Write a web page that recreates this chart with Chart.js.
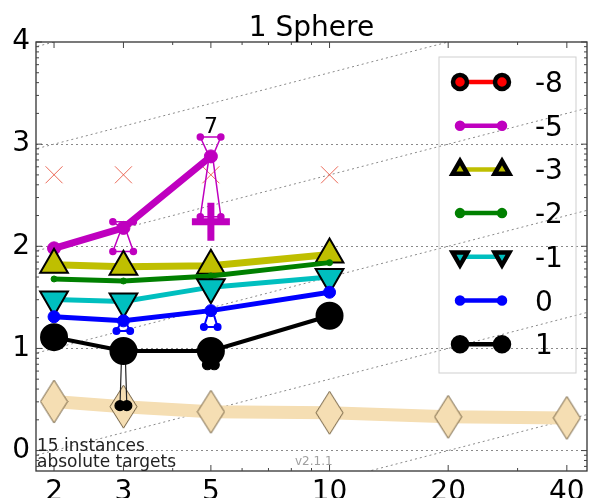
<!DOCTYPE html>
<html>
<head>
<meta charset="utf-8">
<script src="https://cdn.jsdelivr.net/npm/chart.js@4.4.1/dist/chart.umd.min.js"></script>
<style>
    html, body { margin: 0; padding: 0; overflow: hidden; background: #fff; }
    #wrap { width: 592px; height: 510px; }
</style>
</head>
<body>
<div id="wrap"><canvas id="ertChart" width="592" height="510"></canvas></div>
<script>
// dimensions and axis ticks
const dims = [2, 3, 5, 10, 20, 40];
const xTickValues = [2, 3, 5, 10, 20, 40];
const xMinorTicks = [4, 6, 7, 8, 9, 30];
const yTickValues = [0, 1, 2, 3, 4];

// log10(ERT / dim) for each target, by dimension
const ertM8 = [];
const ertM5 = [1.98, 2.18, 2.88];
const ertM3 = [1.82, 1.80, 1.81, 1.92];
const ertM2 = [1.68, 1.66, 1.71, 1.84];
const ertM1 = [1.48, 1.46, 1.60, 1.70];
const ert0 = [1.31, 1.27, 1.37, 1.55];
const ert1 = [1.11, 0.975, 0.975, 1.32];

// best 2009 reference (diamonds) and red crosses
const best2009 = [0.48, 0.43, 0.38, 0.37, 0.33, 0.32];
const refCross = [2.70, 2.70, 2.70, 2.70];

// percentile bars at dims 3 and 5
const pctDims = [3, 5];
const ertM5Hi = [2.24, 3.07];
const ertM5Lo = [1.95, 2.29];
const ert0Lo = [1.17, 1.21];
const ert1Lo = [0.44, 0.84];

// median of unsuccessful runs for target -5, and number of successes
const unsuccDims = [5];
const unsuccM5 = [2.24];
const succCountM5 = ['7'];

// offsets of the dotted quadratic-scaling lines
const diagOffsets = [-2, -1, 0, 1, 2, 3];

const FONT = 'DejaVu Sans';

function pts(ys) {
    return ys.map((y, i) => ({ x: dims[i], y: y }));
}

// diamond marker for the reference line
function makeDiamond(w, h) {
    const c = document.createElement('canvas');
    c.width = w + 2;
    c.height = h + 2;
    const g = c.getContext('2d');
    g.beginPath();
    g.moveTo(c.width / 2, 1);
    g.lineTo(c.width - 1, c.height / 2);
    g.lineTo(c.width / 2, c.height - 1);
    g.lineTo(1, c.height / 2);
    g.closePath();
    g.fillStyle = '#F5DEB3';
    g.fill();
    g.strokeStyle = '#6e5c3e';
    g.lineWidth = 1;
    g.stroke();
    return c;
}

// tower-like percentile marks: top bar, waist at the data point, bottom bar
function tower(values, his, los, spread) {
    const out = [];
    pctDims.forEach((d, i) => {
        const v = values[dims.indexOf(d)];
        const a = d * (1 - spread), b = d * (1 + spread);
        const a2 = d * 0.99, b2 = d * 1.01;
        out.push({ x: a, y: his[i], dot: true }, { x: b, y: his[i], dot: true }, { x: d, y: null });
        out.push({ x: a, y: his[i] }, { x: a2, y: v }, { x: a, y: los[i], dot: true }, { x: b, y: los[i], dot: true }, { x: b2, y: v }, { x: b, y: his[i] }, { x: d, y: null });
    });
    return out;
}

function lowLegs(values, los, spread) {
    const out = [];
    pctDims.forEach((d, i) => {
        const v = values[dims.indexOf(d)];
        out.push({ x: d * 0.99, y: v }, { x: d * (1 - spread), y: los[i], dot: true }, { x: d * (1 + spread), y: los[i], dot: true }, { x: d * 1.01, y: v }, { x: d, y: null });
    });
    return out;
}

function dotRadius(r) {
    return ctx => (ctx.raw && ctx.raw.dot ? r : 0);
}

const datasets = [];

// dotted diagonal lines
diagOffsets.forEach(c => {
    datasets.push({
        data: [{ x: 0.2, y: c }, { x: 20000, y: c + 5 }],
        borderColor: '#8a8a8a',
        borderWidth: 1,
        borderDash: [2, 3],
        pointRadius: 0,
        order: 100
    });
});

datasets.push({
    data: pts(best2009),
    borderColor: '#F5DEB3',
    borderWidth: 13,
    pointStyle: makeDiamond(27, 43),
    pointRadius: 14,
    order: 90
});

datasets.push({
    data: pts(refCross),
    showLine: false,
    pointStyle: 'crossRot',
    pointRadius: 12,
    borderColor: 'rgba(232,80,60,0.85)',
    borderWidth: 1,
    order: 80
});

// percentile marks
datasets.push({
    data: tower(ertM5, ertM5Hi, ertM5Lo, 0.06),
    borderColor: '#BF00BF', borderWidth: 1.5, spanGaps: false,
    pointRadius: dotRadius(3), pointBackgroundColor: '#BF00BF', pointBorderColor: '#BF00BF',
    order: 60
});
datasets.push({
    data: lowLegs(ert0, ert0Lo, 0.04),
    borderColor: '#0000FF', borderWidth: 2, spanGaps: false,
    pointRadius: dotRadius(3), pointBackgroundColor: '#0000FF', pointBorderColor: '#0000FF',
    order: 60
});
datasets.push({
    data: lowLegs(ert1, ert1Lo, 0.02),
    borderColor: '#222', borderWidth: 1.2, spanGaps: false,
    pointRadius: dotRadius(5), pointBackgroundColor: '#000', pointBorderColor: '#000',
    order: 60
});

// target series
const series = [
    { label: '-8', ys: ertM8, color: '#FF0000', width: 4, style: 'circle', r: 8, fill: '#FF0000', edge: '#000', lr: 7 },
    { label: '-5', ys: ertM5, color: '#BF00BF', width: 7, style: 'circle', r: 6.5, fill: '#BF00BF', edge: '#BF00BF', lr: 3 },
    { label: '-3', ys: ertM3, color: '#BFBF00', width: 7, style: 'triangle', r: 16, fill: '#BFBF00', edge: '#000', lr: 8.5 },
    { label: '-2', ys: ertM2, color: '#008000', width: 5, style: 'circle', r: 3, fill: '#008000', edge: '#008000', lr: 3 },
    { label: '-1', ys: ertM1, color: '#00BFBF', width: 5, style: 'triangle', r: 16, fill: '#00BFBF', edge: '#000', lr: 8.5, rot: 180 },
    { label: '0', ys: ert0, color: '#0000FF', width: 5, style: 'circle', r: 6, fill: '#0000FF', edge: '#0000FF', lr: 3 },
    { label: '1', ys: ert1, color: '#000000', width: 4, style: 'circle', r: 13, fill: '#000000', edge: '#000', lr: 7 }
];

series.forEach((s, i) => {
    datasets.push({
        label: s.label,
        legendItem: s,
        data: pts(s.ys),
        borderColor: s.color,
        borderWidth: s.width,
        pointStyle: s.style,
        pointRadius: s.r,
        pointRotation: s.rot || 0,
        pointBackgroundColor: s.fill,
        pointBorderColor: s.edge,
        pointBorderWidth: s.edge === '#000' ? 2 : 1,
        order: 20 - i
    });
});

// median of unsuccessful runs
datasets.push({
    data: unsuccM5.map((y, i) => ({ x: unsuccDims[i], y: y })),
    showLine: false,
    pointStyle: 'cross',
    pointRadius: 19,
    borderColor: '#BF00BF',
    borderWidth: 7,
    order: 5
});

const decor = {
    id: 'decor',
    afterDraw(chart) {
        const ctx = chart.ctx;
        const area = chart.chartArea;
        const xs = chart.scales.x, ys = chart.scales.y;
        ctx.save();

        // frame
        ctx.strokeStyle = '#333';
        ctx.lineWidth = 1.3;
        ctx.strokeRect(area.left, area.top, area.right - area.left, area.bottom - area.top);

        // inward tick marks
        ctx.lineWidth = 1;
        ctx.strokeStyle = '#444';
        const xTick = (v, len) => {
            const px = xs.getPixelForValue(v);
            ctx.beginPath();
            ctx.moveTo(px, area.bottom); ctx.lineTo(px, area.bottom - len);
            ctx.moveTo(px, area.top); ctx.lineTo(px, area.top + len);
            ctx.stroke();
        };
        xTickValues.forEach(v => xTick(v, 6));
        xMinorTicks.forEach(v => xTick(v, 3));
        const yTick = (v, len) => {
            const py = ys.getPixelForValue(v);
            if (py < area.top || py > area.bottom) return;
            ctx.beginPath();
            ctx.moveTo(area.left, py); ctx.lineTo(area.left + len, py);
            ctx.moveTo(area.right, py); ctx.lineTo(area.right - len, py);
            ctx.stroke();
        };
        yTickValues.forEach(v => yTick(v, 6));
        [-1, 0, 1, 2, 3].forEach(dec => {
            for (let k = 2; k <= 9; k++) yTick(dec + Math.log10(k), 3);
        });

        // title
        ctx.fillStyle = '#000';
        ctx.textAlign = 'center';
        ctx.textBaseline = 'alphabetic';
        ctx.font = '28px "' + FONT + '"';
        ctx.fillText('1 Sphere', (area.left + area.right) / 2, 36);

        // number of successful trials
        ctx.font = '22px "' + FONT + '"';
        ctx.fillText(succCountM5[0], xs.getPixelForValue(unsuccDims[0]), ys.getPixelForValue(ertM5Hi[1]) - 4);

        // corner texts
        ctx.textAlign = 'left';
        ctx.font = '17px "' + FONT + '"';
        ctx.fillStyle = '#222';
        ctx.fillText('15 instances', area.left + 1, area.bottom - 20);
        ctx.fillText('absolute targets', area.left + 1, area.bottom - 4);
        ctx.font = '12px "' + FONT + '"';
        ctx.fillStyle = '#a0a0a0';
        ctx.fillText('v2.1.1', 295, area.bottom - 6);

        // legend
        const lx = 439, ly = 57, lw = 137, lh = 316;
        ctx.strokeStyle = '#cfcfcf';
        ctx.lineWidth = 1;
        ctx.strokeRect(lx, ly, lw, lh);
        chart.data.datasets.filter(d => d.legendItem).forEach((d, i) => {
            const s = d.legendItem;
            const cy = 82 + i * 43.7;
            ctx.strokeStyle = s.color;
            ctx.lineWidth = 4.5;
            ctx.beginPath();
            ctx.moveTo(460, cy); ctx.lineTo(502, cy);
            ctx.stroke();
            ctx.fillStyle = s.fill;
            ctx.strokeStyle = s.edge;
            const opts = { pointStyle: s.style, radius: s.lr, rotation: s.rot || 0, borderWidth: s.edge === '#000' ? 2 : 1 };
            Chart.helpers.drawPoint(ctx, opts, 460, cy);
            Chart.helpers.drawPoint(ctx, opts, 502, cy);
            ctx.fillStyle = '#000';
            ctx.font = '28px "' + FONT + '"';
            ctx.textAlign = 'left';
            ctx.fillText(s.label, 535, cy + 10);
        });

        ctx.restore();
    }
};

new Chart(document.getElementById('ertChart').getContext('2d'), {
    type: 'line',
    data: { datasets: datasets },
    options: {
        responsive: false,
        animation: false,
        layout: { autoPadding: false, padding: { top: 42, right: 5, left: 0, bottom: 0 } },
        plugins: {
            legend: { display: false },
            title: { display: false },
            tooltip: { enabled: false }
        },
        scales: {
            x: {
                type: 'logarithmic',
                min: 1.8,
                max: 45,
                afterBuildTicks: s => { s.ticks = xTickValues.map(v => ({ value: v })); },
                afterFit: s => { s.height = 39; s.paddingLeft = 0; s.paddingRight = 0; },
                grid: { display: false, drawTicks: false },
                border: { display: false },
                ticks: {
                    autoSkip: false,
                    maxRotation: 0,
                    padding: 5,
                    color: '#000',
                    font: { family: FONT, size: 28 },
                    callback: v => String(v)
                }
            },
            y: {
                type: 'linear',
                min: -0.2,
                max: 4,
                afterBuildTicks: s => { s.ticks = yTickValues.map(v => ({ value: v })); },
                afterFit: s => { s.width = 36; s.paddingTop = 0; s.paddingBottom = 0; },
                grid: {
                    drawTicks: false,
                    lineWidth: 1,
                    color: c => (c.tick && c.tick.value === 4 ? 'rgba(0,0,0,0)' : '#8a8a8a')
                },
                border: { display: false, dash: [2, 3] },
                ticks: {
                    padding: 6,
                    color: '#000',
                    font: { family: FONT, size: 28 },
                    callback: v => String(v)
                }
            }
        }
    },
    plugins: [decor]
});
</script>
</body>
</html>
